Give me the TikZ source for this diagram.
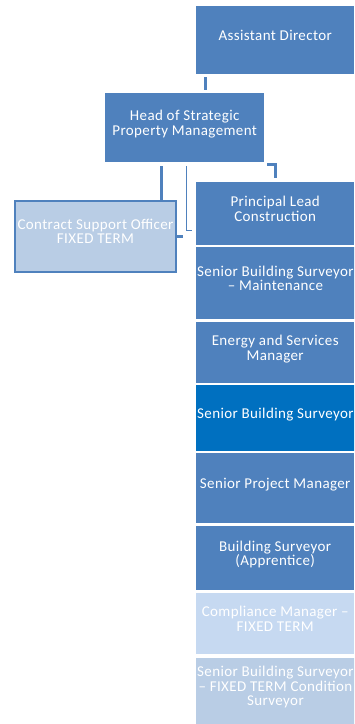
\documentclass[tikz,border=0pt]{standalone}
\usepackage{fontspec}
\setmainfont[LetterSpace=2.5]{Carlito}
\usetikzlibrary{positioning}

\definecolor{orgblue}{RGB}{79,129,189}
\definecolor{orgdark}{RGB}{0,112,192}
\definecolor{orgpale}{RGB}{198,217,241}
\definecolor{orgfaint}{RGB}{185,205,229}

\tikzset{
  post/.style={rectangle, anchor=north west, fill=orgblue, text=white,
    align=center, inner sep=1pt, minimum width=158pt, text depth=10pt,
    font=\fontsize{15}{14.5}\selectfont},
  link/.style={draw=orgblue, line width=3pt},
  thinlink/.style={draw=orgblue, line width=1pt},
}

\begin{document}
\begin{tikzpicture}[x=1pt,y=-1pt]
\useasboundingbox (0,0) rectangle (354,724);
\clip (0,0) rectangle (354,724);

% top of the chart
\node[post, minimum height=68pt] (ad) at (196,6) {Assistant Director};
\node[post, minimum width=159pt, minimum height=69pt] (head) at (105,93)
  {Head of Strategic\\Property Management};
\node[post, fill=orgfaint, draw=orgblue, line width=2pt,
  minimum width=161pt, minimum height=71pt] (cso) at (14,200)
  {Contract Support Officer\\FIXED TERM};

% the column of posts
\node[post, minimum height=63pt] (plc) at (196,182) {Principal Lead\\Construction};
\node[post, minimum height=72pt] (sbsm) at (196,247) {Senior Building Surveyor\\-- Maintenance};
\node[post, minimum height=61pt] (esm) at (196,322) {Energy and Services\\Manager};
\node[post, fill=orgdark, minimum height=66pt] (sbs) at (196,385) {Senior Building Surveyor};
\node[post, minimum height=70pt] (spm) at (196,453) {Senior Project Manager};
\node[post, minimum height=64pt] (bsa) at (196,526) {Building Surveyor\\(Apprentice)};
\node[post, fill=orgpale, minimum height=61pt] (cm) at (196,593) {Compliance Manager --\\FIXED TERM};
\node[post, fill=orgfaint, minimum height=66pt] (sbsft) at (196,658)
  {Senior Building Surveyor\\-- FIXED TERM Condition\\Surveyor};

% connectors
\draw[link] ([xshift=9pt,yshift=-3pt]ad.south west) -- ([xshift=100pt,yshift=3pt]head.north west);
\draw[link] ([xshift=56pt,yshift=-4pt]head.south west) -- ([xshift=56pt]head.south west |- cso.north);
\draw[thinlink] ([xshift=81pt,yshift=-4pt]head.south west) |- ([xshift=-4pt,yshift=-48pt]plc.north west);
\draw[link] (cso.east) -- ([xshift=-13pt]plc.south west |- cso.east);
\draw[link] ([xshift=3pt,yshift=-2pt]head.south east) -| ([xshift=79pt,yshift=4pt]plc.north west);

\end{tikzpicture}
\end{document}
